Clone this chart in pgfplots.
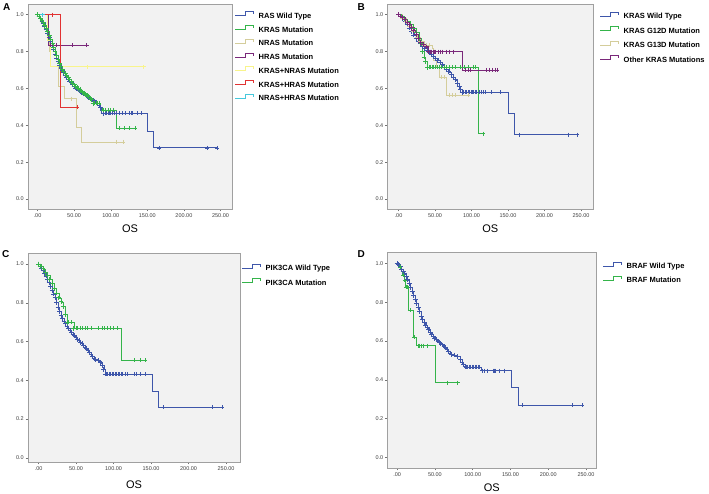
\documentclass[border=0pt]{standalone}
\usepackage{pgfplots}
\pgfplotsset{compat=1.18}
\usepackage{pgfplotstable}
\usepackage{fontspec}
\setmainfont{Liberation Sans}
\definecolor{kmblue}{RGB}{62,86,170}
\definecolor{kmgreen}{RGB}{52,180,74}
\definecolor{kmtan}{RGB}{212,205,155}
\definecolor{kmpurple}{RGB}{122,40,122}
\definecolor{kmyellow}{RGB}{248,244,140}
\definecolor{kmred}{RGB}{225,50,50}
\definecolor{kmcyan}{RGB}{70,200,220}
\definecolor{kmbg}{RGB}{242,242,242}
\definecolor{kmframe}{RGB}{160,160,160}

% ---------- Panel A ----------
\pgfplotstableread[row sep=\\]{x y\\
0 1\\ 2 0.99\\ 4 0.98\\ 6 0.965\\ 8 0.95\\ 10 0.935\\ 12 0.918\\ 14 0.9\\ 16 0.878\\ 18 0.855\\
20 0.832\\ 22 0.81\\ 24 0.787\\ 26 0.765\\ 28 0.745\\ 30 0.726\\ 32 0.71\\ 34 0.697\\ 36 0.685\\ 38 0.673\\
40 0.661\\ 42 0.65\\ 44 0.64\\ 46 0.63\\ 48 0.62\\ 50 0.61\\ 52 0.602\\ 54 0.597\\ 56 0.591\\ 58 0.585\\
60 0.58\\ 62 0.575\\ 64 0.57\\ 66 0.564\\ 68 0.558\\ 70 0.552\\ 72 0.546\\ 74 0.54\\ 76 0.535\\ 78 0.53\\
80 0.525\\ 82 0.518\\ 84 0.51\\ 86 0.497\\ 88 0.48\\ 90 0.465\\ 150 0.37\\ 158 0.278\\ 245 0.278\\
}\Ablue
\pgfplotstableread[row sep=\\]{x y\\
92 0.465\\ 94 0.465\\ 96 0.465\\ 98 0.465\\ 100 0.465\\ 102 0.465\\ 105 0.465\\ 108 0.465\\ 112 0.465\\
116 0.465\\ 120 0.465\\ 126 0.465\\ 128 0.465\\ 130 0.465\\ 136 0.465\\ 142 0.465\\
166 0.278\\ 232 0.278\\ 245 0.278\\
}\Abluec
\pgfplotstableread[row sep=\\]{x y\\
0 1\\ 2 0.99\\ 4 0.982\\ 6 0.97\\ 8 0.957\\ 10 0.943\\ 12 0.927\\ 14 0.91\\ 16 0.89\\ 18 0.868\\
20 0.845\\ 22 0.822\\ 24 0.8\\ 26 0.778\\ 28 0.757\\ 30 0.738\\ 32 0.72\\ 34 0.705\\ 36 0.692\\ 38 0.68\\
40 0.668\\ 42 0.657\\ 44 0.647\\ 46 0.637\\ 48 0.628\\ 50 0.619\\ 52 0.611\\ 54 0.604\\ 56 0.598\\ 58 0.592\\
60 0.586\\ 62 0.58\\ 64 0.574\\ 66 0.568\\ 68 0.562\\ 70 0.555\\ 72 0.547\\ 74 0.538\\ 76 0.52\\ 86 0.5\\
88 0.483\\ 108 0.385\\ 133 0.385\\
}\Agreen
\pgfplotstableread[row sep=\\]{x y\\
78 0.52\\ 80 0.52\\ 82 0.52\\ 84 0.52\\ 90 0.483\\ 93 0.483\\ 96 0.483\\ 100 0.483\\ 104 0.483\\
112 0.385\\ 118 0.385\\ 125 0.385\\ 133 0.385\\
}\Agreenc

% ---------- Panel B ----------
\pgfplotstableread[row sep=\\]{x y\\
0 1\\ 3 0.99\\ 6 0.978\\ 9 0.963\\ 12 0.946\\ 15 0.928\\ 18 0.91\\ 21 0.89\\ 24 0.872\\ 27 0.856\\
30 0.842\\ 33 0.83\\ 36 0.818\\ 39 0.806\\ 42 0.795\\ 45 0.784\\ 48 0.773\\ 51 0.762\\ 54 0.751\\ 57 0.74\\
60 0.728\\ 63 0.716\\ 66 0.703\\ 69 0.69\\ 72 0.676\\ 75 0.662\\ 78 0.646\\ 81 0.628\\ 83 0.61\\ 85 0.595\\
87 0.58\\ 151 0.465\\ 159 0.35\\ 245 0.35\\
}\Bblue
\pgfplotstableread[row sep=\\]{x y\\
89 0.58\\ 91 0.58\\ 93 0.58\\ 95 0.58\\ 97 0.58\\ 99 0.58\\ 101 0.58\\ 103 0.58\\ 105 0.58\\ 107 0.58\\
110 0.58\\ 113 0.58\\ 116 0.58\\ 119 0.58\\ 127 0.58\\ 140 0.58\\ 166 0.35\\ 232 0.35\\ 245 0.35\\
}\Bbluec
\pgfplotstableread[row sep=\\]{x y\\
0 1\\ 4 0.99\\ 8 0.976\\ 12 0.962\\ 16 0.946\\ 20 0.927\\ 24 0.902\\ 28 0.872\\ 31 0.845\\ 33 0.8\\
35 0.77\\ 37 0.745\\ 40 0.715\\ 109 0.355\\ 116 0.355\\
}\Bgreen
\pgfplotstableread[row sep=\\]{x y\\
42 0.715\\ 44 0.715\\ 46 0.715\\ 48 0.715\\ 50 0.715\\ 53 0.715\\ 56 0.715\\ 59 0.715\\ 62 0.715\\
66 0.715\\ 70 0.715\\ 74 0.715\\ 78 0.715\\ 84 0.715\\ 90 0.715\\ 96 0.715\\ 102 0.715\\ 105 0.715\\ 116 0.355\\
}\Bgreenc
\pgfplotstableread[row sep=\\]{x y\\
0 1\\ 5 0.982\\ 10 0.962\\ 15 0.938\\ 20 0.91\\ 25 0.88\\ 30 0.855\\ 35 0.835\\ 46 0.82\\ 48 0.75\\
52 0.715\\ 56 0.66\\ 66 0.565\\ 95 0.565\\
}\Btan
\pgfplotstableread[row sep=\\]{x y\\
38 0.835\\ 42 0.835\\ 58 0.66\\ 62 0.66\\ 70 0.565\\ 74 0.565\\ 78 0.565\\ 95 0.565\\
}\Btanc
\pgfplotstableread[row sep=\\]{x y\\
0 1\\ 3 0.993\\ 6 0.983\\ 9 0.972\\ 12 0.96\\ 15 0.946\\ 18 0.93\\ 21 0.912\\ 24 0.892\\ 27 0.87\\
30 0.85\\ 34 0.84\\ 38 0.825\\ 41 0.8\\ 88 0.7\\ 135 0.7\\
}\Bpurple
\pgfplotstableread[row sep=\\]{x y\\
43 0.8\\ 45 0.8\\ 47 0.8\\ 49 0.8\\ 51 0.8\\ 54 0.8\\ 57 0.8\\ 60 0.8\\ 65 0.8\\ 70 0.8\\ 75 0.8\\
92 0.7\\ 95 0.7\\ 98 0.7\\ 120 0.7\\ 124 0.7\\ 128 0.7\\ 132 0.7\\ 135 0.7\\
}\Bpurplec

% ---------- Panel C ----------
\pgfplotstableread[row sep=\\]{x y\\
0 1\\ 2 0.99\\ 4 0.978\\ 6 0.966\\ 8 0.953\\ 10 0.938\\ 12 0.922\\ 14 0.904\\ 16 0.885\\ 18 0.865\\
20 0.845\\ 22 0.826\\ 24 0.8\\ 26 0.776\\ 28 0.755\\ 30 0.736\\ 32 0.72\\ 34 0.705\\ 36 0.692\\ 38 0.68\\
40 0.668\\ 42 0.658\\ 44 0.648\\ 46 0.638\\ 48 0.629\\ 50 0.62\\ 52 0.612\\ 54 0.604\\ 56 0.596\\ 58 0.588\\
60 0.58\\ 62 0.571\\ 64 0.562\\ 66 0.553\\ 68 0.543\\ 70 0.532\\ 72 0.522\\ 74 0.512\\ 76 0.506\\ 80 0.5\\
83 0.49\\ 85 0.475\\ 87 0.455\\ 89 0.432\\ 151 0.343\\ 159 0.26\\ 245 0.26\\
}\Cblue
\pgfplotstableread[row sep=\\]{x y\\
90 0.432\\ 92 0.432\\ 94 0.432\\ 96 0.432\\ 98 0.432\\ 100 0.432\\ 102 0.432\\ 104 0.432\\ 106 0.432\\
108 0.432\\ 110 0.432\\ 112 0.432\\ 115 0.432\\ 118 0.432\\ 127 0.432\\ 128 0.432\\ 130 0.432\\ 135 0.432\\
142 0.432\\ 166 0.26\\ 232 0.26\\ 245 0.26\\
}\Cbluec
\pgfplotstableread[row sep=\\]{x y\\
0 1\\ 3 0.99\\ 6 0.975\\ 9 0.958\\ 12 0.94\\ 15 0.92\\ 18 0.898\\ 21 0.875\\ 24 0.85\\ 27 0.825\\
30 0.805\\ 33 0.78\\ 36 0.74\\ 38 0.7\\ 47 0.668\\ 110 0.504\\ 142 0.504\\
}\Cgreen
\pgfplotstableread[row sep=\\]{x y\\
40 0.7\\ 43 0.7\\ 50 0.668\\ 52 0.668\\ 55 0.668\\ 58 0.668\\ 62 0.668\\ 65 0.668\\ 70 0.668\\ 80 0.668\\
85 0.668\\ 88 0.668\\ 92 0.668\\ 95 0.668\\ 100 0.668\\ 105 0.668\\ 128 0.504\\ 135 0.504\\ 142 0.504\\
}\Cgreenc

% ---------- Panel D ----------
\pgfplotstableread[row sep=\\]{x y\\
0 1\\ 2 0.993\\ 4 0.983\\ 6 0.972\\ 8 0.96\\ 10 0.947\\ 12 0.932\\ 14 0.916\\ 16 0.898\\ 18 0.878\\
20 0.857\\ 22 0.835\\ 24 0.815\\ 26 0.795\\ 28 0.775\\ 30 0.752\\ 32 0.728\\ 34 0.71\\ 36 0.695\\ 38 0.682\\
40 0.67\\ 42 0.658\\ 44 0.646\\ 46 0.635\\ 48 0.625\\ 50 0.614\\ 52 0.606\\ 54 0.6\\ 56 0.594\\ 58 0.587\\
60 0.58\\ 62 0.572\\ 64 0.565\\ 66 0.557\\ 68 0.547\\ 70 0.538\\ 72 0.531\\ 76 0.528\\ 80 0.52\\ 84 0.505\\
86 0.49\\ 88 0.478\\ 90 0.467\\ 112 0.447\\ 151 0.359\\ 160 0.27\\ 245 0.27\\
}\Dblue
\pgfplotstableread[row sep=\\]{x y\\
91 0.467\\ 93 0.467\\ 95 0.467\\ 97 0.467\\ 99 0.467\\ 101 0.467\\ 103 0.467\\ 105 0.467\\ 107 0.467\\
109 0.467\\ 113 0.447\\ 116 0.447\\ 119 0.447\\ 127 0.447\\ 128 0.447\\ 130 0.447\\ 135 0.447\\ 142 0.447\\
166 0.27\\ 232 0.27\\ 245 0.27\\
}\Dbluec
\pgfplotstableread[row sep=\\]{x y\\
0 1\\ 3 0.98\\ 5 0.96\\ 7 0.94\\ 9 0.915\\ 11 0.88\\ 15 0.76\\ 22 0.62\\ 25 0.576\\ 50 0.385\\ 80 0.385\\
}\Dgreen
\pgfplotstableread[row sep=\\]{x y\\
4 0.98\\ 8 0.94\\ 10 0.915\\ 12 0.88\\ 13 0.88\\ 17 0.76\\ 23 0.62\\ 28 0.576\\ 30 0.576\\ 32 0.576\\
34 0.576\\ 40 0.576\\ 67 0.385\\ 80 0.385\\
}\Dgreenc

\pgfplotsset{
  kmaxis/.style={
    scale only axis,
    axis background/.style={fill=kmbg},
    axis line style={kmframe, line width=0.6pt},
    tick pos=left, tick align=outside, major tick length=2.5pt,
    tick style={black!55, line width=0.4pt},
    ytick={0,0.2,0.4,0.6,0.8,1.0},
    yticklabel style={/pgf/number format/fixed, /pgf/number format/fixed zerofill, /pgf/number format/precision=1},
    xtick={0,50,100,150,200,250},
    xticklabels={.00,50.00,100.00,150.00,200.00,250.00},
    ticklabel style={font=\fontsize{5.5}{6}\selectfont, text=black!75, inner sep=1.5pt},
    /pgf/number format/assume math mode=true,
    xlabel={OS},
    xlabel style={at={(axis description cs:0.5,0)}, anchor=center, yshift=-20pt, font=\fontsize{11}{12}\selectfont},
    legend cell align=left,
    legend image code/.code={\draw[line width=0.7pt] (0pt,0.5pt) -- (10pt,0.5pt) -- (10pt,4.5pt) -- (18pt,4.5pt) -- (18pt,2pt);},
    legend style={draw=none, fill=none, at={(axis description cs:1,1)}, anchor=north west,
      inner sep=0pt, outer sep=0pt,
      font=\fontsize{7.5}{8}\selectfont\bfseries,
      nodes={inner sep=0.5pt, text height=5.6pt, text depth=1.4pt},
      /tikz/every odd column/.append style={column sep=4.5pt}},
  },
  kmline/.style={const plot, no markers, line width=0.6pt},
  kmcens/.style={only marks, mark=+, mark size=2pt, line width=0.55pt, forget plot},
  kmdense/.style={only marks, mark=+, mark size=2.4pt, line width=0.9pt, forget plot},
}

\begin{document}
\begin{tikzpicture}[x=1pt,y=1pt]
\useasboundingbox (0,0) rectangle (709,494);

% ===== A =====
\begin{axis}[kmaxis, at={(28pt,285pt)}, anchor=south west, width=204pt, height=205pt,
  xmin=-13, xmax=265.7, ymin=-0.054, ymax=1.058,
  legend style={xshift=3pt, yshift=-7.5pt, row sep=4.9pt}]
\addplot[kmline, kmblue] table {\Ablue}; \addlegendentry{RAS Wild Type}
\addplot[kmdense, kmblue, restrict x to domain=0:90] table {\Ablue};
\addplot[kmcens, kmblue] table {\Abluec};
\addplot[kmline, kmgreen] table {\Agreen}; \addlegendentry{KRAS Mutation}
\addplot[kmdense, kmgreen, restrict x to domain=0:76] table {\Agreen};
\addplot[kmcens, kmgreen] table {\Agreenc};
\addplot[kmline, kmtan] coordinates {(0,1)(13,0.9)(16,0.8)(18,0.72)(29,0.61)(37,0.545)(53,0.39)(60,0.31)(117,0.31)}; \addlegendentry{NRAS Mutation}
\addplot[kmcens, kmtan] coordinates {(46,0.545)(107,0.31)(117,0.31)};
\addplot[kmline, kmpurple] coordinates {(0,1)(15,0.833)(67,0.833)}; \addlegendentry{HRAS Mutation}
\addplot[kmcens, kmpurple] coordinates {(18,0.833)(25,0.833)(47,0.833)(67,0.833)};
\addplot[kmline, kmyellow] coordinates {(0,1)(14,0.86)(17,0.718)(145,0.718)}; \addlegendentry{KRAS+NRAS Mutation}
\addplot[kmcens, kmyellow] coordinates {(68,0.718)(145,0.718)};
\addplot[kmline, kmred] coordinates {(0,1)(31,0.5)(54,0.5)}; \addlegendentry{KRAS+HRAS Mutation}
\addplot[kmcens, kmred] coordinates {(20,1)(54,0.5)};
\addplot[kmline, kmcyan] coordinates {(0,1)(7,1)}; \addlegendentry{NRAS+HRAS Mutation}
\addplot[kmcens, kmcyan] coordinates {(7,1)};
\end{axis}

% ===== B =====
\begin{axis}[kmaxis, at={(387.5pt,285pt)}, anchor=south west, width=205.5pt, height=205pt,
  xmin=-15.1, xmax=266.4, ymin=-0.054, ymax=1.058,
  legend style={xshift=7pt, yshift=-7.7pt, row sep=5.7pt}]
\addplot[kmline, kmblue] table {\Bblue}; \addlegendentry{KRAS Wild Type}
\addplot[kmdense, kmblue, restrict x to domain=0:87] table {\Bblue};
\addplot[kmcens, kmblue] table {\Bbluec};
\addplot[kmline, kmgreen] table {\Bgreen}; \addlegendentry{KRAS G12D Mutation}
\addplot[kmdense, kmgreen, restrict x to domain=0:40] table {\Bgreen};
\addplot[kmcens, kmgreen] table {\Bgreenc};
\addplot[kmline, kmtan] table {\Btan}; \addlegendentry{KRAS G13D Mutation}
\addplot[kmcens, kmtan, restrict x to domain=0:35] table {\Btan};
\addplot[kmcens, kmtan] table {\Btanc};
\addplot[kmline, kmpurple] table {\Bpurple}; \addlegendentry{Other KRAS Mutations}
\addplot[kmdense, kmpurple, restrict x to domain=0:41] table {\Bpurple};
\addplot[kmcens, kmpurple] table {\Bpurplec};
\end{axis}

% ===== C =====
\begin{axis}[kmaxis, at={(28pt,32pt)}, anchor=south west, width=212pt, height=209pt,
  xmin=-14.1, xmax=268.6, ymin=-0.022, ymax=1.057,
  xlabel style={yshift=-3pt},
  legend style={xshift=2pt, yshift=-11pt, row sep=5.3pt}]
\addplot[kmline, kmblue] table {\Cblue}; \addlegendentry{PIK3CA Wild Type}
\addplot[kmdense, kmblue, restrict x to domain=0:89] table {\Cblue};
\addplot[kmcens, kmblue] table {\Cbluec};
\addplot[kmline, kmgreen] table {\Cgreen}; \addlegendentry{PIK3CA Mutation}
\addplot[kmdense, kmgreen, restrict x to domain=0:47] table {\Cgreen};
\addplot[kmcens, kmgreen] table {\Cgreenc};
\end{axis}

% ===== D =====
\begin{axis}[kmaxis, at={(387.5pt,26pt)}, anchor=south west, width=208.5pt, height=215.5pt,
  xmin=-12.7, xmax=263.2, ymin=-0.055, ymax=1.057,
  legend style={xshift=7pt, yshift=-9.2pt, row sep=5.3pt}]
\addplot[kmline, kmblue] table {\Dblue}; \addlegendentry{BRAF Wild Type}
\addplot[kmdense, kmblue, restrict x to domain=0:90] table {\Dblue};
\addplot[kmcens, kmblue] table {\Dbluec};
\addplot[kmline, kmgreen] table {\Dgreen}; \addlegendentry{BRAF Mutation}
\addplot[kmcens, kmgreen] table {\Dgreenc};
\end{axis}

\node[anchor=north west, inner sep=0pt, font=\fontsize{10}{11}\selectfont\bfseries] at (3,490.7) {A};
\node[anchor=north west, inner sep=0pt, font=\fontsize{10}{11}\selectfont\bfseries] at (357.5,490.7) {B};
\node[anchor=north west, inner sep=0pt, font=\fontsize{10}{11}\selectfont\bfseries] at (2,244) {C};
\node[anchor=north west, inner sep=0pt, font=\fontsize{10}{11}\selectfont\bfseries] at (357.5,244) {D};
\end{tikzpicture}
\end{document}
